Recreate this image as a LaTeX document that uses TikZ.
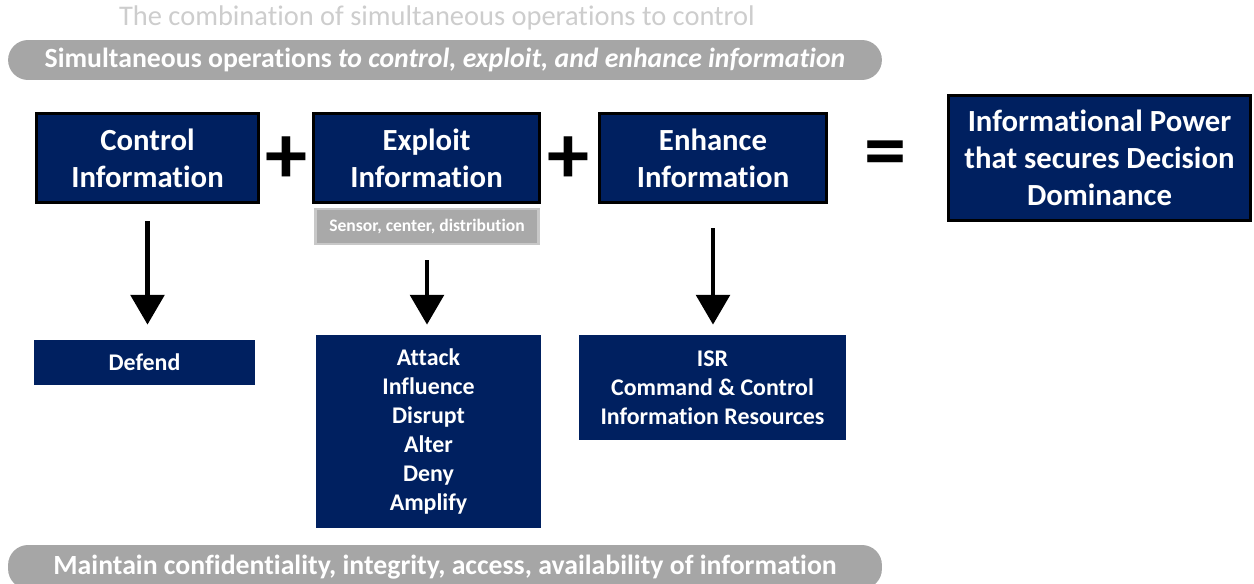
\documentclass[tikz,border=0pt]{standalone}
\usepackage{fontspec}
\setmainfont{Carlito}[Ligatures=NoCommon]
\usetikzlibrary{arrows.meta}
\definecolor{navy}{RGB}{0,32,96}
\definecolor{pillgray}{RGB}{166,166,166}
\definecolor{sensorgray}{RGB}{169,169,169}
\definecolor{sensorline}{RGB}{200,200,200}
\definecolor{titlegray}{RGB}{205,205,205}

\begin{document}
\begin{tikzpicture}[x=0.02cm,y=-0.02cm,
    headbox/.style={draw=black, line width=1.7pt, fill=navy, text=white, align=center, inner sep=0pt,
        font=\bfseries\fontsize{17.5}{21}\selectfont},
    listbox/.style={fill=navy, text=white, align=center, inner sep=0pt,
        font=\bfseries\fontsize{13.6}{16.4}\selectfont},
    pill/.style={fill=pillgray, text=white, rounded corners=0.4cm, inner sep=0pt,
        minimum width=17.48cm, font=\bfseries\fontsize{15.8}{19}\selectfont},
    sign/.style={font=\bfseries\fontsize{48}{48}\selectfont, inner sep=0pt},
    downarrow/.style={-{Triangle[length=17pt,width=19pt]}, line width=2.8pt}]
    \useasboundingbox (0,0) rectangle (1254,584);

    % titel en balken
    \node[text=titlegray, font=\fontsize{16.2}{19}\selectfont] (title) at (437,18)
        {The combination of simultaneous operations to control};
    \node[pill, minimum height=0.8cm] (ops) at (445,60)
        {Simultaneous operations \textit{to control, exploit, and enhance information}};
    \node[pill, minimum height=0.88cm] (maint) at (445,567)
        {Maintain confidentiality, integrity, access, availability of information};

    % bovenste rij
    \node[headbox, minimum width=4.44cm, minimum height=1.8cm] (ctrl) at (147.5,158) {Control\\Information};
    \node[headbox, minimum width=4.52cm, minimum height=1.8cm] (expl) at (426.5,158) {Exploit\\Information};
    \node[headbox, minimum width=4.54cm, minimum height=1.8cm] (enh) at (713,158) {Enhance\\Information};
    \node[headbox, minimum width=6.04cm, minimum height=2.5cm] (power) at (1099.5,158)
        {Informational Power\\that secures Decision\\Dominance};

    \node[sign] (plusA) at (286,160) {+};
    \node[sign] (plusB) at (568,160) {+};
    \node[sign] (equal) at (885,160) {=};

    \node[fill=sensorgray, draw=sensorline, line width=1.7pt, text=white, inner sep=0pt,
        minimum width=4.46cm, minimum height=0.7cm, font=\bfseries\fontsize{10}{12}\selectfont]
        (sensor) at (427,226.5) {Sensor, center, distribution};

    % onderste rij
    \node[listbox, minimum width=4.42cm, minimum height=0.9cm] (defend) at (144.5,362.5) {Defend};
    \node[listbox, minimum width=4.5cm, minimum height=3.86cm] (attack) at (428.5,431.5)
        {Attack\\Influence\\Disrupt\\Alter\\Deny\\Amplify};
    \node[listbox, minimum width=5.34cm, minimum height=2.1cm] (isr) at (712.5,387.5)
        {ISR\\Command \& Control\\Information Resources};

    % pijlen
    \draw[downarrow, shorten <=0.34cm, shorten >=0.3cm] (ctrl.south) -- (ctrl.south |- defend.north);
    \draw[downarrow, shorten <=0.3cm, shorten >=0.2cm] (sensor.south) -- (sensor.south |- attack.north);
    \draw[downarrow, shorten <=0.48cm, shorten >=0.2cm] (enh.south) -- (enh.south |- isr.north);
\end{tikzpicture}
\end{document}
